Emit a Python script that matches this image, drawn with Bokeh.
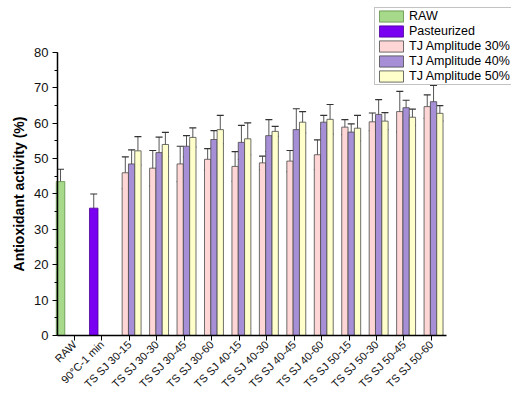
import math
from bokeh.plotting import figure
from bokeh.models import (ColumnDataSource, Whisker, TeeHead, Legend, LegendItem,
                          FixedTicker, SingleIntervalTicker, Range1d)
from bokeh.embed import file_html
from bokeh.resources import INLINE

# ---------------- data ----------------
categories = ["RAW", "90°C-1 min",
              "TS SJ 30-15", "TS SJ 30-30", "TS SJ 30-45", "TS SJ 30-60",
              "TS SJ 40-15", "TS SJ 40-30", "TS SJ 40-45", "TS SJ 40-60",
              "TS SJ 50-15", "TS SJ 50-30", "TS SJ 50-45", "TS SJ 50-60"]

raw_value = [43.5]
raw_err = [3.5]
past_value = [36.0]
past_err = [4.0]

tj30 = [46.0, 47.3, 48.5, 49.8, 47.8, 48.8, 49.3, 51.1, 58.9, 60.4, 63.3, 64.7]
tj30_err = [4.5, 5.0, 5.0, 3.0, 4.2, 1.9, 3.0, 4.2, 2.1, 2.5, 5.7, 3.3]
tj40 = [48.5, 51.7, 53.5, 55.4, 54.6, 56.5, 58.2, 60.3, 57.5, 62.5, 64.4, 66.1]
tj40_err = [4.0, 4.4, 3.0, 2.5, 4.8, 4.5, 5.9, 1.9, 2.3, 4.2, 2.1, 4.6]
tj50 = [52.2, 54.0, 56.0, 58.2, 55.6, 57.7, 60.3, 61.1, 58.6, 60.6, 61.7, 62.8]
tj50_err = [4.0, 3.4, 2.7, 4.0, 4.5, 1.4, 3.0, 4.2, 3.6, 2.4, 2.3, 2.2]

series_names = ["RAW", "Pasteurized", "TJ Amplitude 30%", "TJ Amplitude 40%", "TJ Amplitude 50%"]

# ---------------- styles ----------------
C_RAW = "#a6d98a"
C_PAST = "#7a00f2"
C_30 = "#ffd6d6"
C_40 = "#a78fd8"
C_50 = "#ffffcc"
OUTLINE = "#4a4a4a"
ERRC = "#555555"
FONT = "Liberation Sans"

Y_MAX = 80
X_LO, X_HI = -0.62, 13.55

p = figure(width=511, height=393, output_backend="svg", toolbar_location=None,
           x_range=Range1d(-2.697, 15.92), y_range=Range1d(-16.4, 94.7),
           min_border_left=0, min_border_right=0, min_border_top=0, min_border_bottom=0)
p.outline_line_color = None
p.xgrid.grid_line_color = None
p.ygrid.grid_line_color = None
p.background_fill_color = "white"

single_w = 0.31
group_w = 0.23
shift = -0.15

def bars(xs, tops, errs, color, width, line_color=OUTLINE):
    src = ColumnDataSource(dict(x=xs, top=tops,
                                upper=[t + e for t, e in zip(tops, errs)],
                                lower=[t - e for t, e in zip(tops, errs)]))
    r = p.vbar(x="x", top="top", bottom=0, width=width, source=src,
               fill_color=color, line_color=line_color, line_width=0.8)
    w = Whisker(base="x", upper="upper", lower="lower", source=src,
                line_color=ERRC, line_width=1,
                upper_head=TeeHead(size=7, line_color="#333333", line_width=1.2),
                lower_head=TeeHead(size=7, line_color="#333333", line_width=1.2))
    p.add_layout(w)
    return r

r_raw = bars([0 - 0.36 + shift], raw_value, raw_err, C_RAW, single_w, line_color="#5f8f45")
r_past = bars([1 - 0.15 + shift], past_value, past_err, C_PAST, single_w, line_color="#4b0096")
gx = list(range(2, 2 + len(tj30)))
r30 = bars([g + 0.0 + shift for g in gx], tj30, tj30_err, C_30, group_w)
r40 = bars([g + 0.23 + shift for g in gx], tj40, tj40_err, C_40, group_w)
r50 = bars([g + 0.46 + shift for g in gx], tj50, tj50_err, C_50, group_w)

# ---------------- axes ----------------
xa = p.xaxis[0]
xa.fixed_location = 0
xa.bounds = (X_LO, X_HI)
xa.ticker = FixedTicker(ticks=list(range(len(categories))))
xa.major_label_overrides = {i: c for i, c in enumerate(categories)}
xa.major_label_orientation = math.pi / 4
xa.major_label_text_font = FONT
xa.major_label_text_font_size = "11px"
xa.major_label_text_color = "#111111"
xa.major_label_standoff = 2
xa.axis_line_color = "black"
xa.axis_line_width = 1.5
xa.major_tick_line_color = "black"
xa.major_tick_in = 0
xa.major_tick_out = 5
xa.minor_tick_line_color = None

ya = p.yaxis[0]
ya.fixed_location = X_LO
ya.bounds = (0, Y_MAX)
ya.ticker = SingleIntervalTicker(interval=10, num_minor_ticks=2)
ya.axis_label = "Antioxidant activity (%)"
ya.axis_label_text_font = FONT
ya.axis_label_text_font_style = "bold"
ya.axis_label_text_font_size = "14px"
ya.axis_label_text_color = "black"
ya.axis_label_standoff = 4
ya.major_label_text_font = FONT
ya.major_label_text_font_size = "13px"
ya.major_label_text_color = "#111111"
ya.major_label_standoff = 4
ya.axis_line_color = "black"
ya.axis_line_width = 1.5
ya.major_tick_line_color = "black"
ya.major_tick_in = 0
ya.major_tick_out = 5
ya.minor_tick_line_color = "black"
ya.minor_tick_in = 0
ya.minor_tick_out = 3

# ---------------- legend ----------------
legend = Legend(items=[LegendItem(label=n, renderers=[r]) for n, r in
                       zip(series_names, [r_raw, r_past, r30, r40, r50])],
                location=(374, 308), orientation="vertical")
legend.label_text_font = FONT
legend.label_text_font_size = "12.5px"
legend.label_text_color = "black"
legend.glyph_width = 30
legend.glyph_height = 14
legend.label_height = 14
legend.label_standoff = 3
legend.spacing = 1
legend.padding = 1
legend.margin = 0
legend.border_line_color = "#888888"
legend.border_line_width = 1
legend.background_fill_color = "white"
legend.background_fill_alpha = 1
p.add_layout(legend)

open("out.html", "w").write(file_html(p, INLINE))
